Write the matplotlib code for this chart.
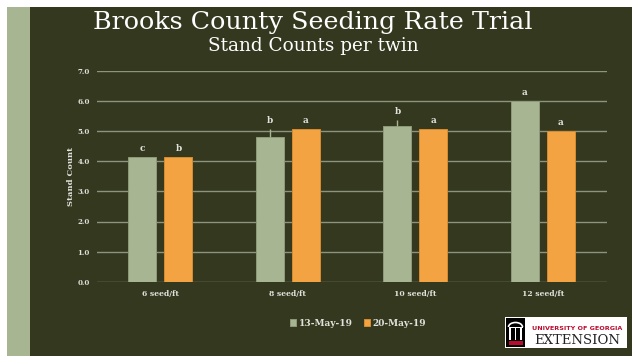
import matplotlib
matplotlib.use("Agg")
import matplotlib.pyplot as plt
from matplotlib.patches import Rectangle, Arc
import numpy as np

# stand counts by seeding rate, two counting dates
rates = ["6 seed/ft", "8 seed/ft", "10 seed/ft", "12 seed/ft"]
dates = ["13-May-19", "20-May-19"]
may13 = [4.13, 4.80, 5.18, 5.99]
may20 = [4.15, 5.08, 5.08, 5.00]
may13_err = [0.0, 0.26, 0.19, 0.0]
may20_err = [0.0, 0.0, 0.0, 0.0]
may13_letters = ["c", "b", "b", "a"]
may20_letters = ["b", "a", "a", "a"]

W, H = 632, 356
BG = "#33381f"
SAGE = "#a7b592"
ORANGE = "#f3a342"
GRID = "#8e937b"
TXT = "#e2e2dc"

def fx(px):
    return px / W

def fy(py):
    # py measured from the top of the image
    return 1 - py / H

fig = plt.figure(figsize=(W / 100, H / 100), dpi=100, facecolor="white")

# slide background: sage strip on the left, dark panel for the chart
fig.patches.append(Rectangle((fx(7), 0), fx(23), fy(7), transform=fig.transFigure,
                             facecolor=SAGE, edgecolor="none", zorder=-5))
fig.patches.append(Rectangle((fx(30), 0), fx(W - 30), fy(7), transform=fig.transFigure,
                             facecolor=BG, edgecolor="none", zorder=-5))

fig.text(fx(313), fy(22), "Brooks County Seeding Rate Trial", family="DejaVu Serif",
         fontsize=18.3, color="white", ha="center", va="center")
fig.text(fx(313), fy(46), "Stand Counts per twin", family="DejaVu Serif",
         fontsize=13.3, color="white", ha="center", va="center")

ax = fig.add_axes([fx(96.7), fy(281.7), fx(510), 210.7 / H])
ax.set_facecolor("none")
for s in ax.spines.values():
    s.set_visible(False)

x = np.arange(len(rates))
bw = 0.22
off = 0.141
ax.set_ylim(0, 7)
ax.set_xlim(-0.5, len(rates) - 0.5)
ax.set_yticks(np.arange(0, 8, 1))
ax.set_yticklabels([f"{v:.1f}" for v in np.arange(0, 8, 1)])
for v in np.arange(0, 8, 1):
    ax.axhline(v, color=GRID, lw=1.0, zorder=1)

ax.bar(x - off, may13, bw, color=SAGE, edgecolor="#8e9b7a", lw=0.7, zorder=2, label=dates[0])
ax.bar(x + off, may20, bw, color=ORANGE, edgecolor="#d88b30", lw=0.7, zorder=2, label=dates[1])
ax.errorbar(x - off, may13, yerr=[np.zeros(4), may13_err], fmt="none", ecolor=SAGE,
            elinewidth=1, capsize=0, zorder=3)

for xi, v, e, t in zip(x - off, may13, may13_err, may13_letters):
    ax.annotate(t, (xi, v + e), xytext=(0, 3), textcoords="offset points", ha="center",
                va="bottom", family="DejaVu Serif", weight="bold", fontsize=6.5, color=TXT)
for xi, v, e, t in zip(x + off, may20, may20_err, may20_letters):
    ax.annotate(t, (xi, v + e), xytext=(0, 3), textcoords="offset points", ha="center",
                va="bottom", family="DejaVu Serif", weight="bold", fontsize=6.5, color=TXT)

ax.set_xticks(x)
ax.set_xticklabels(rates)
ax.tick_params(length=0, colors=TXT, labelsize=5.5)
ax.tick_params(axis="y", pad=5, labelsize=5)
ax.tick_params(axis="x", pad=6)
for lab in ax.get_xticklabels() + ax.get_yticklabels():
    lab.set_family("DejaVu Serif")
    lab.set_weight("bold")
ax.set_ylabel("Stand Count", family="DejaVu Serif", weight="bold", fontsize=6,
              color=TXT, labelpad=2)

leg = fig.legend(loc="center", bbox_to_anchor=(fx(358), fy(323)), ncol=2, frameon=False,
                 handlelength=0.7, handleheight=0.7, handletextpad=0.3, columnspacing=1.2,
                 prop={"family": "DejaVu Serif", "weight": "bold", "size": 6.5})
for t in leg.get_texts():
    t.set_color(TXT)

# extension logo, bottom right
fig.patches.append(Rectangle((fx(505), fy(348)), fx(122), 31 / H, transform=fig.transFigure,
                             facecolor="white", edgecolor="none", zorder=3))
fig.patches.append(Rectangle((fx(506), fy(347)), fx(19), 29 / H, transform=fig.transFigure,
                             facecolor="black", edgecolor="none", zorder=4))
for px in (510, 515.5, 521):
    fig.patches.append(Rectangle((fx(px - 0.8), fy(340)), fx(1.6), 13 / H,
                                 transform=fig.transFigure, facecolor="white",
                                 edgecolor="none", zorder=5))
fig.patches.append(Rectangle((fx(508.5), fy(328)), fx(14), 1.5 / H, transform=fig.transFigure,
                             facecolor="white", edgecolor="none", zorder=5))
fig.patches.append(Arc((fx(515.5), fy(327)), fx(14), 9 / H, theta1=0, theta2=180,
                       transform=fig.transFigure, color="white", lw=1.2, zorder=5))
fig.patches.append(Rectangle((fx(508.5), fy(344.5)), fx(14), 4 / H, transform=fig.transFigure,
                             facecolor="#ba0c2f", edgecolor="none", zorder=5))
fig.text(fx(577.5), fy(328), "UNIVERSITY OF GEORGIA", family="DejaVu Sans", weight="bold",
         fontsize=4.6, color="#ba0c2f", ha="center", va="center", zorder=6)
fig.text(fx(577.5), fy(340.5), "EXTENSION", family="DejaVu Serif", fontsize=9.5,
         color="#222222", ha="center", va="center", zorder=6)

fig.savefig("out.png", dpi=100, facecolor=fig.get_facecolor())
